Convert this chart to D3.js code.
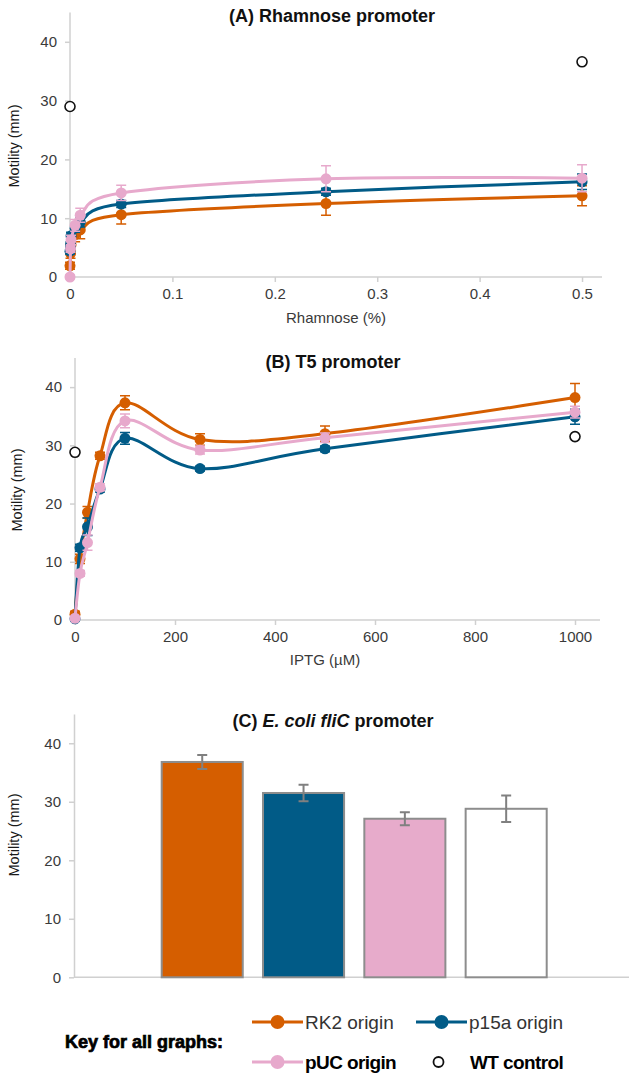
<!DOCTYPE html>
<html>
<head>
<meta charset="utf-8">
<script src="https://cdn.jsdelivr.net/npm/d3@7"></script>
<style>
  body { margin: 0; background: #fff; }
  svg { display: block; font-family: "Liberation Sans", Arial, sans-serif; }
  .axis path, .axis line { stroke: #d0d0d0; stroke-width: 1.5; }
  .axis text { fill: #3a3a3a; font-size: 15px; }
</style>
</head>
<body>
<svg id="chart" width="629" height="1074"></svg>
<script>
// series names and colours
var seriesNames = ['RK2 origin', 'p15a origin', 'pUC origin'];
var seriesColors = ['#d55e00', '#015b87', '#e7a9cc'];

// (A) rhamnose
var rhaX = [0, 0.0005, 0.001, 0.005, 0.01, 0.05, 0.25, 0.5];
var rhaRK2 = [1.9, 4.0, 5.5, 7.2, 8.0, 10.6, 12.5, 13.8];
var rhaRK2Err = [0.6, 0.8, 1.0, 1.2, 1.5, 1.6, 2.0, 1.7];
var rhaP15a = [4.4, 5.5, 7.0, 8.3, 9.3, 12.4, 14.5, 16.2];
var rhaP15aErr = [0.5, 0.5, 0.6, 0.7, 0.8, 0.6, 0.6, 1.3];
var rhaPUC = [0, 4.8, 6.3, 8.8, 10.5, 14.3, 16.7, 16.8];
var rhaPUCErr = [0.3, 0.6, 0.8, 1.0, 1.2, 1.3, 2.2, 2.3];
var rhaWTX = [0, 0.5];
var rhaWT = [29.0, 36.6];
var rhaTicks = [0, 0.1, 0.2, 0.3, 0.4, 0.5];

// (B) T5 / IPTG
var iptgX = [0, 10, 25, 50, 100, 250, 500, 1000];
var t5RK2 = [1.0, 10.5, 18.5, 28.2, 37.3, 31.0, 32.0, 38.2];
var t5RK2Err = [0.5, 0.8, 1.0, 0.6, 1.2, 1.0, 1.3, 2.4];
var t5P15a = [0.2, 12.4, 16.0, 22.5, 31.2, 26.0, 29.4, 34.9];
var t5P15aErr = [0.3, 0.6, 1.5, 0.5, 1.0, 0.4, 0.5, 1.3];
var t5PUC = [0.3, 8.0, 13.3, 22.8, 34.2, 29.2, 31.3, 35.7];
var t5PUCErr = [0.3, 0.5, 1.3, 0.6, 1.2, 0.7, 0.8, 1.0];
var iptgWTX = [0, 1000];
var t5WT = [28.8, 31.5];
var iptgTicks = [0, 200, 400, 600, 800, 1000];

// (C) fliC bars
var barNames = ['RK2 origin', 'p15a origin', 'pUC origin', 'WT control'];
var barValues = [36.8, 31.5, 27.1, 28.8];
var barErr = [1.2, 1.4, 1.1, 2.25];
var barFills = ['#d55e00', '#015b87', '#e7abcb', '#ffffff'];

var yTicks = [0, 10, 20, 30, 40];

(function() {

  var svg = d3.select('#chart');
  var curve = d3.curveCardinal.tension(0);

  function yAxisLabel(g, x, y) {
    g.append('text')
        .attr('transform', 'translate(' + x + ',' + y + ') rotate(-90)')
        .attr('text-anchor', 'middle')
        .attr('font-size', '14.5px')
        .attr('fill', '#1a1a1a')
        .text('Motility (mm)');
  }

  function drawAxes(xScale, yScale, xTicks, fmt) {
    var x0 = xScale.range()[0], y0 = yScale.range()[0];

    svg.append('g')
        .attr('class', 'axis')
        .attr('transform', 'translate(0,' + y0 + ')')
        .call(d3.axisBottom(xScale).tickValues(xTicks).tickSize(5).tickSizeOuter(0).tickPadding(6).tickFormat(fmt))
        .call(function(g) { g.select('.domain').attr('d', 'M' + x0 + ',0H' + xScale.range()[1]); });

    svg.append('g')
        .attr('class', 'axis')
        .attr('transform', 'translate(' + x0 + ',0)')
        .call(d3.axisLeft(yScale).tickValues(yTicks).tickSize(5).tickSizeOuter(0).tickPadding(8))
        .call(function(g) { g.select('.domain').attr('d', 'M0,' + y0 + 'V' + yScale.range()[1]); });
  }

  function drawSeries(xScale, yScale, xs, ys, errs, color) {
    var pts = xs.map(function(x, i) { return {x: x, y: ys[i], e: errs[i]}; });
    var g = svg.append('g');

    g.selectAll('.err').data(pts).enter().append('path')
        .attr('stroke', color)
        .attr('stroke-width', 1.5)
        .attr('fill', 'none')
        .attr('d', function(d) {
          var cx = xScale(d.x), t = yScale(d.y + d.e), b = yScale(d.y - d.e);
          return 'M' + cx + ',' + t + 'V' + b + 'M' + (cx - 5) + ',' + t + 'H' + (cx + 5) + 'M' + (cx - 5) + ',' + b + 'H' + (cx + 5);
        });

    g.append('path')
        .datum(pts)
        .attr('fill', 'none')
        .attr('stroke', color)
        .attr('stroke-width', 3)
        .attr('d', d3.line().curve(curve)
          .x(function(d) { return xScale(d.x); })
          .y(function(d) { return yScale(d.y); }));

    g.selectAll('circle').data(pts).enter().append('circle')
        .attr('cx', function(d) { return xScale(d.x); })
        .attr('cy', function(d) { return yScale(d.y); })
        .attr('r', 5.5)
        .attr('fill', color);
  }

  function drawWT(xScale, yScale, xs, ys) {
    svg.append('g').selectAll('circle')
        .data(xs.map(function(x, i) { return {x: x, y: ys[i]}; }))
        .enter().append('circle')
        .attr('cx', function(d) { return xScale(d.x); })
        .attr('cy', function(d) { return yScale(d.y); })
        .attr('r', 5)
        .attr('fill', '#fff')
        .attr('stroke', '#111')
        .attr('stroke-width', 1.6);
  }

  function title(x, y, parts) {
    var t = svg.append('text')
        .attr('x', x).attr('y', y)
        .attr('text-anchor', 'middle')
        .attr('font-size', '18px')
        .attr('font-weight', 'bold')
        .attr('fill', '#111');
    parts.forEach(function(p) {
      t.append('tspan').attr('font-style', p[1] ? 'italic' : 'normal').text(p[0]);
    });
  }

  // ---- panel A
  var xA = d3.scaleLinear().domain([0, 0.5195]).range([70, 602]);
  var yA = d3.scaleLinear().domain([0, 45]).range([277, 12.4]);
  drawAxes(xA, yA, rhaTicks, d3.format('~g'));
  title(332, 22, [['(A) Rhamnose promoter']]);
  svg.append('text').attr('x', 336).attr('y', 323).attr('text-anchor', 'middle')
      .attr('font-size', '15px').attr('fill', '#3a3a3a').text('Rhamnose (%)');
  yAxisLabel(svg, 19, 146);
  drawSeries(xA, yA, rhaX, rhaRK2, rhaRK2Err, seriesColors[0]);
  drawSeries(xA, yA, rhaX, rhaP15a, rhaP15aErr, seriesColors[1]);
  drawSeries(xA, yA, rhaX, rhaPUC, rhaPUCErr, seriesColors[2]);
  drawWT(xA, yA, rhaWTX, rhaWT);

  // ---- panel B
  var xB = d3.scaleLinear().domain([0, 1050]).range([75, 600]);
  var yB = d3.scaleLinear().domain([0, 45]).range([620, 358]);
  drawAxes(xB, yB, iptgTicks, d3.format('d'));
  title(333, 368, [['(B) T5 promoter']]);
  svg.append('text').attr('x', 325).attr('y', 665).attr('text-anchor', 'middle')
      .attr('font-size', '15px').attr('fill', '#3a3a3a').text('IPTG (\u00b5M)');
  yAxisLabel(svg, 22, 490);
  drawSeries(xB, yB, iptgX, t5RK2, t5RK2Err, seriesColors[0]);
  drawSeries(xB, yB, iptgX, t5P15a, t5P15aErr, seriesColors[1]);
  drawSeries(xB, yB, iptgX, t5PUC, t5PUCErr, seriesColors[2]);
  drawWT(xB, yB, iptgWTX, t5WT);

  // ---- panel C
  var yC = d3.scaleLinear().domain([0, 45]).range([977.3, 714]);
  var xC = d3.scaleBand().domain(barNames).range([161.7, 546.7]).paddingInner(0.2).paddingOuter(0);

  svg.append('g')
      .attr('class', 'axis')
      .attr('transform', 'translate(0,977.3)')
      .append('path').attr('d', 'M74,0H629');
  svg.append('g')
      .attr('class', 'axis')
      .attr('transform', 'translate(74,0)')
      .call(d3.axisLeft(yC).tickValues(yTicks).tickSize(5).tickSizeOuter(0).tickPadding(8));

  title(333, 727, [['(C) '], ['E. coli fliC', true], [' promoter']]);
  yAxisLabel(svg, 19, 835);

  var bars = barNames.map(function(n, i) { return {n: n, v: barValues[i], e: barErr[i], f: barFills[i]}; });

  svg.append('g').selectAll('rect').data(bars).enter().append('rect')
      .attr('x', function(d) { return xC(d.n); })
      .attr('y', function(d) { return yC(d.v); })
      .attr('width', xC.bandwidth())
      .attr('height', function(d) { return yC(0) - yC(d.v); })
      .attr('fill', function(d) { return d.f; })
      .attr('stroke', '#8d8d8d')
      .attr('stroke-width', 2);

  svg.append('g').selectAll('path').data(bars).enter().append('path')
      .attr('stroke', '#808080')
      .attr('stroke-width', 2)
      .attr('fill', 'none')
      .attr('d', function(d) {
        var cx = xC(d.n) + xC.bandwidth() / 2, t = yC(d.v + d.e), b = yC(d.v - d.e);
        return 'M' + cx + ',' + t + 'V' + b + 'M' + (cx - 5) + ',' + t + 'H' + (cx + 5) + 'M' + (cx - 5) + ',' + b + 'H' + (cx + 5);
      });

  // ---- key
  svg.append('text')
      .attr('x', 65).attr('y', 1048)
      .attr('font-size', '18px')
      .attr('font-weight', 'bold')
      .attr('stroke', '#000').attr('stroke-width', 0.7)
      .attr('fill', '#000')
      .text('Key for all graphs:');

  var keyItems = [
    {name: seriesNames[0], color: seriesColors[0], x: 252, y: 1022, bold: false},
    {name: seriesNames[1], color: seriesColors[1], x: 416, y: 1022, bold: false},
    {name: seriesNames[2], color: seriesColors[2], x: 252, y: 1062, bold: true}
  ];

  var key = svg.append('g').selectAll('g').data(keyItems).enter().append('g')
      .attr('transform', function(d) { return 'translate(' + d.x + ',' + d.y + ')'; });
  key.append('path')
      .attr('d', 'M0,0H51')
      .attr('stroke', function(d) { return d.color; })
      .attr('stroke-width', 3);
  key.append('circle')
      .attr('cx', 25.5).attr('r', 7)
      .attr('fill', function(d) { return d.color; });
  key.append('text')
      .attr('x', 53).attr('y', 6.5)
      .attr('font-size', '19px')
      .attr('font-weight', function(d) { return d.bold ? 'bold' : 'normal'; })
      .attr('letter-spacing', function(d) { return d.bold ? '-0.6px' : '0'; })
      .attr('fill', function(d) { return d.bold ? '#000' : '#333'; })
      .text(function(d) { return d.name; });

  svg.append('circle')
      .attr('cx', 438.5).attr('cy', 1062).attr('r', 5)
      .attr('fill', '#fff').attr('stroke', '#111').attr('stroke-width', 1.8);
  svg.append('text')
      .attr('x', 470).attr('y', 1068.5)
      .attr('font-size', '19px')
      .attr('font-weight', 'bold')
      .attr('letter-spacing', '-0.6px')
      .attr('fill', '#000')
      .text(barNames[3]);

})();
</script>
</body>
</html>
